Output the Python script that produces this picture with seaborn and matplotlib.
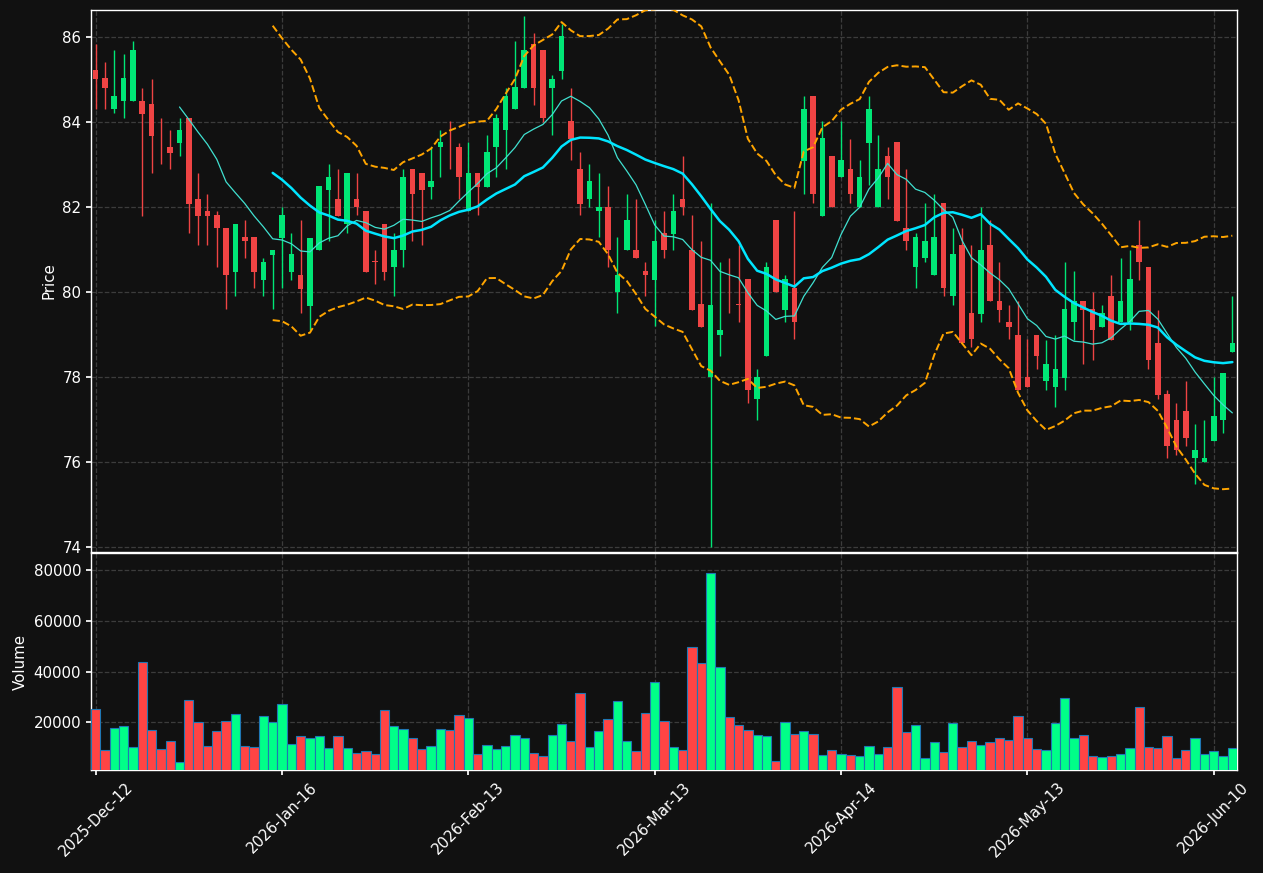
import matplotlib
matplotlib.use("Agg")
import matplotlib.pyplot as plt
import seaborn as sns
import numpy as np
import pandas as pd
from matplotlib.ticker import MultipleLocator

# daily OHLC + volume
opens = [85.21, 85.02, 84.30, 84.48, 84.48, 84.50, 84.41, 83.42, 83.42, 83.50,
         84.10, 82.19, 81.91, 81.80, 81.51, 80.48, 81.30, 81.30, 80.29, 80.88,
         81.28, 80.47, 80.41, 79.68, 80.98, 82.39, 82.19, 81.60, 82.19, 81.91,
         80.72, 81.61, 80.58, 80.98, 82.90, 82.80, 82.48, 83.40, 83.02, 83.42,
         81.90, 82.80, 82.48, 83.40, 83.80, 84.30, 84.79, 85.82, 85.70, 84.79,
         85.19, 84.01, 82.90, 82.19, 81.90, 81.99, 80.00, 80.98, 80.99, 80.50,
         80.29, 81.40, 81.37, 82.19, 81.00, 79.71, 78.00, 78.98, 80.01, 79.71,
         80.31, 77.48, 78.50, 81.70, 79.59, 80.10, 83.09, 84.62, 81.78, 83.20,
         82.70, 82.90, 81.99, 83.50, 81.99, 83.20, 83.52, 81.51, 80.58, 80.80,
         80.39, 82.09, 79.90, 81.11, 79.51, 79.49, 81.11, 79.80, 79.30, 79.00,
         78.00, 79.00, 77.90, 77.78, 77.99, 79.29, 79.80, 79.61, 79.19, 79.91,
         79.29, 79.29, 81.11, 80.60, 78.80, 77.60, 76.99, 77.21, 76.09, 76.00,
         76.49, 76.99, 78.58]
highs = [85.83, 85.41, 85.69, 85.60, 85.90, 84.79, 85.01, 84.09, 83.81, 84.09,
         84.10, 82.80, 82.30, 81.91, 81.51, 81.61, 81.69, 81.30, 80.81, 81.00,
         81.99, 81.39, 81.69, 81.28, 82.50, 83.01, 82.89, 82.80, 82.80, 81.91,
         80.99, 81.61, 81.39, 82.89, 82.90, 82.80, 83.42, 83.81, 84.01, 83.50,
         83.52, 82.80, 83.69, 84.19, 84.79, 85.90, 86.49, 86.09, 85.70, 85.10,
         86.31, 84.79, 83.30, 83.01, 82.80, 82.49, 81.29, 82.30, 82.19, 80.70,
         81.70, 81.90, 82.30, 83.19, 81.80, 81.19, 82.09, 80.70, 80.80, 81.10,
         80.31, 78.19, 80.70, 81.70, 80.39, 81.90, 84.60, 84.62, 84.01, 83.20,
         84.01, 83.60, 83.11, 84.60, 83.70, 83.41, 83.52, 82.90, 81.40, 82.09,
         82.30, 82.09, 81.50, 81.50, 81.10, 81.99, 81.70, 80.70, 79.70, 79.80,
         78.90, 79.00, 78.88, 78.98, 80.70, 80.49, 79.80, 80.00, 79.70, 80.39,
         80.80, 80.99, 81.70, 80.60, 79.59, 77.70, 77.39, 77.90, 76.90, 76.99,
         78.00, 78.10, 79.90]
lows = [84.30, 84.30, 84.21, 84.09, 84.48, 81.78, 82.79, 83.00, 82.89, 83.19,
        81.39, 81.10, 81.10, 80.59, 79.60, 79.91, 80.80, 80.10, 79.91, 79.60,
        80.10, 80.29, 79.51, 79.10, 80.98, 81.19, 81.78, 81.39, 81.80, 80.47,
        80.19, 80.29, 79.90, 80.58, 81.19, 81.10, 82.19, 82.70, 82.89, 82.19,
        81.90, 81.80, 82.48, 82.70, 82.89, 84.30, 84.79, 84.40, 83.99, 83.69,
        85.01, 83.11, 81.80, 81.99, 81.29, 80.59, 79.51, 80.98, 80.80, 79.90,
        79.21, 80.80, 80.99, 81.80, 79.59, 79.19, 74.00, 78.50, 79.51, 79.30,
        77.39, 76.99, 78.50, 80.00, 79.30, 78.90, 82.30, 82.09, 81.78, 81.99,
        82.70, 82.09, 81.99, 82.52, 81.99, 82.19, 81.68, 81.00, 80.10, 80.70,
        80.39, 79.90, 79.70, 78.80, 78.72, 79.30, 79.78, 79.30, 78.90, 77.70,
        77.78, 78.19, 77.70, 77.29, 77.70, 78.88, 78.30, 78.40, 79.19, 78.88,
        79.29, 79.10, 80.29, 78.19, 77.48, 76.09, 76.18, 76.39, 75.49, 76.00,
        76.49, 76.69, 78.58]
closes = [85.00, 84.79, 84.62, 85.02, 85.70, 84.19, 83.68, 83.40, 83.28, 83.82,
          82.08, 81.78, 81.78, 81.50, 80.39, 81.61, 81.19, 80.48, 80.71, 81.00,
          81.80, 80.90, 80.08, 81.28, 82.50, 82.71, 81.78, 82.80, 81.99, 80.47,
          80.70, 80.47, 80.99, 82.71, 82.30, 82.39, 82.62, 83.52, 83.00, 82.70,
          82.80, 82.48, 83.30, 84.10, 84.62, 84.81, 85.70, 84.79, 84.09, 85.01,
          86.01, 83.60, 82.08, 82.62, 81.99, 80.98, 80.41, 81.70, 80.80, 80.39,
          81.21, 80.98, 81.91, 81.99, 79.59, 79.19, 79.70, 79.11, 79.99, 79.69,
          77.70, 78.00, 80.60, 80.00, 80.31, 79.29, 84.31, 82.30, 83.61, 81.99,
          83.11, 82.30, 82.71, 84.31, 82.90, 82.70, 81.68, 81.19, 81.30, 81.21,
          81.30, 80.10, 80.90, 78.80, 78.90, 81.00, 79.78, 79.59, 79.19, 77.70,
          77.78, 78.50, 78.32, 78.19, 79.61, 79.78, 79.59, 79.10, 79.51, 78.88,
          79.80, 80.31, 80.70, 78.40, 77.59, 76.39, 76.28, 76.58, 76.28, 76.09,
          77.09, 78.10, 78.80]
volumes = [25130, 8950, 17630, 18420, 10130, 43680, 16840, 9340, 12500, 4210,
           28680, 20000, 10530, 16580, 20390, 23160, 10530, 10130, 22370, 20000,
           27100, 11320, 14470, 13680, 14470, 9740, 14470, 9740, 7760, 8550,
           7370, 24740, 18420, 17240, 13680, 9340, 10530, 17240, 16840, 22760,
           21580, 7370, 10920, 9340, 10530, 14870, 13680, 7760, 6580, 14870,
           19210, 12500, 31450, 10130, 16450, 21180, 28290, 12500, 8550, 23550,
           35790, 20390, 10130, 8950, 49610, 43290, 78820, 41710, 21970, 18820,
           16840, 14870, 14470, 4610, 20000, 15260, 16450, 15260, 6970, 8950,
           7370, 6970, 6580, 10530, 7370, 10130, 33820, 16050, 18820, 5790,
           12110, 8160, 19610, 10130, 12500, 10920, 12110, 13680, 12890, 22370,
           13680, 9340, 8950, 19610, 29470, 13680, 14870, 6580, 6180, 6580,
           7370, 9740, 25920, 10130, 9740, 14470, 5790, 8950, 13680, 7370,
           8550, 6580, 9740]
tick_labels = ['2025-Dec-12', '2026-Jan-16', '2026-Feb-13', '2026-Mar-13',
               '2026-Apr-14', '2026-May-13', '2026-Jun-10']

df = pd.DataFrame({'open': opens, 'high': highs, 'low': lows,
                   'close': closes, 'volume': volumes})
df['idx'] = np.arange(len(df))
df['sma10'] = df['close'].rolling(10).mean()
df['sma20'] = df['close'].rolling(20).mean()
std20 = df['close'].rolling(20).std()
df['upper'] = df['sma20'] + 2 * std20
df['lower'] = df['sma20'] - 2 * std20
up = df['close'] >= df['open']

bg = '#111111'
sns.set_theme(style='dark', rc={'axes.facecolor': bg, 'figure.facecolor': bg,
                                'axes.edgecolor': 'white', 'text.color': 'white',
                                'axes.labelcolor': 'white', 'xtick.color': 'white',
                                'ytick.color': 'white', 'grid.color': '#3c3c3c',
                                'grid.linestyle': '--', 'font.size': 10.8})
plt.rcParams['font.family'] = ['DejaVu Sans']

fig = plt.figure(figsize=(12.63, 8.73), dpi=100)
W, H = 1263, 873
ax = fig.add_axes([91 / W, (H - 552) / H, 1146 / W, 542 / H])
axv = fig.add_axes([91 / W, (H - 770) / H, 1146 / W, 217 / H], sharex=ax)

# candles
candle_col = np.where(up, '#00e676', '#ef4444')
ax.vlines(df['idx'], df['low'], df['high'], colors=candle_col, linewidth=1, zorder=2)
body_bottom = np.minimum(df['open'], df['close'])
body_height = np.maximum((df['close'] - df['open']).abs(), 0.02)
ax.bar(df['idx'], body_height, bottom=body_bottom, width=0.6,
       color=candle_col, linewidth=0, zorder=3)

# moving averages and bands
sns.lineplot(data=df, x='idx', y='sma10', ax=ax, color='#40e0d0', linewidth=0.9, zorder=4)
sns.lineplot(data=df, x='idx', y='sma20', ax=ax, color='#00e5ff', linewidth=1.8, zorder=4)
sns.lineplot(data=df, x='idx', y='upper', ax=ax, color='#ffa500', linewidth=1.4,
             linestyle='--', zorder=4)
sns.lineplot(data=df, x='idx', y='lower', ax=ax, color='#ffa500', linewidth=1.4,
             linestyle='--', zorder=4)

# volume
vol_col = np.where(up, '#00ff88', '#ff4444')
axv.bar(df['idx'], df['volume'], width=1.0, color=vol_col,
        edgecolor='#1f77b4', linewidth=0.8, zorder=3)

n = len(df)
ax.set_xlim(-0.5, n - 0.5)
ax.set_ylim(73.89, 86.63)
axv.set_ylim(1200, df['volume'].max() * 1.1)
ax.yaxis.set_major_locator(MultipleLocator(2))
axv.yaxis.set_major_locator(MultipleLocator(20000))

ticks = np.arange(0, n, 20)
axv.set_xticks(ticks)
axv.set_xticklabels(tick_labels, rotation=45, ha='center')
ax.tick_params(axis='x', labelbottom=False, length=0)

for a in (ax, axv):
    a.grid(True, linestyle='--', color='#3c3c3c', linewidth=0.9)
    a.tick_params(axis='y', left=True, length=3.5, colors='white', labelsize=10.8)
    for s in a.spines.values():
        s.set_color('white')
        s.set_linewidth(1)
axv.tick_params(axis='x', bottom=True, length=3.5, colors='white', labelsize=10.8)

ax.set_xlabel('')
ax.set_ylabel('Price', fontsize=10.8)
axv.set_xlabel('')
axv.set_ylabel('Volume', fontsize=10.8)

fig.savefig('out.png', dpi=100, facecolor=bg)
